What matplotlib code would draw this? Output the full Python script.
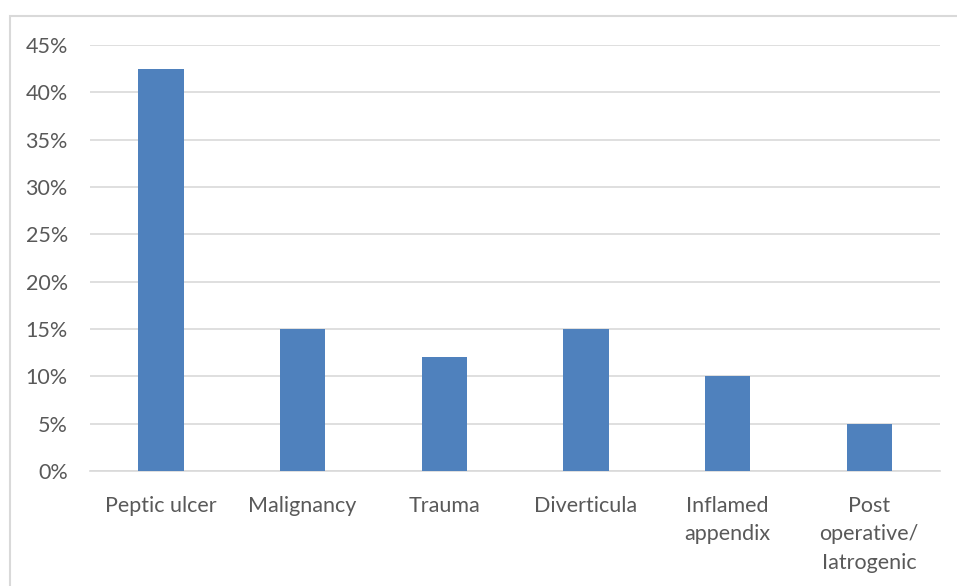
import matplotlib.pyplot as plt
from matplotlib.patches import Rectangle
from matplotlib.ticker import PercentFormatter

plt.rcParams['font.family'] = ['Lato', 'DejaVu Sans']

categories = ["Peptic ulcer", "Malignancy", "Trauma", "Diverticula",
              "Inflamed\nappendix", "Post\noperative/\nIatrogenic"]
shares = [42.5, 15, 12, 15, 10, 5]
yticks = [0, 5, 10, 15, 20, 25, 30, 35, 40, 45]

fig = plt.figure(figsize=(9.57, 5.86), dpi=100)
ax = fig.add_axes([90 / 957, 115 / 586, 850 / 957, 426 / 586])

# chart frame, open on the right and bottom
fig.patches.append(Rectangle((9.5 / 957, -0.1), 1.2, (586 - 15.5) / 586 + 0.1,
                             transform=fig.transFigure, fill=False,
                             edgecolor="#d9d9d9", linewidth=1.5))

x = range(len(categories))
ax.bar(x, shares, width=0.32, color="#4f81bd", zorder=3)

ax.set_xlim(-0.5, len(categories) - 0.5)
ax.set_ylim(0, 45)
ax.set_yticks(yticks)
ax.yaxis.set_major_formatter(PercentFormatter(decimals=0))
ax.set_xticks(list(x))
ax.set_xticklabels(categories, linespacing=1.52)

ax.grid(axis="y", color="#d9d9d9", linewidth=1.2, zorder=0)
for side in ["top", "right", "left"]:
    ax.spines[side].set_visible(False)
ax.spines["bottom"].set_color("#d9d9d9")
ax.spines["bottom"].set_linewidth(1.2)
ax.tick_params(length=0, labelsize=15.5, labelcolor="#595959")
ax.tick_params(axis="y", pad=16)
ax.tick_params(axis="x", pad=18)

fig.savefig("out.png", dpi=100)
